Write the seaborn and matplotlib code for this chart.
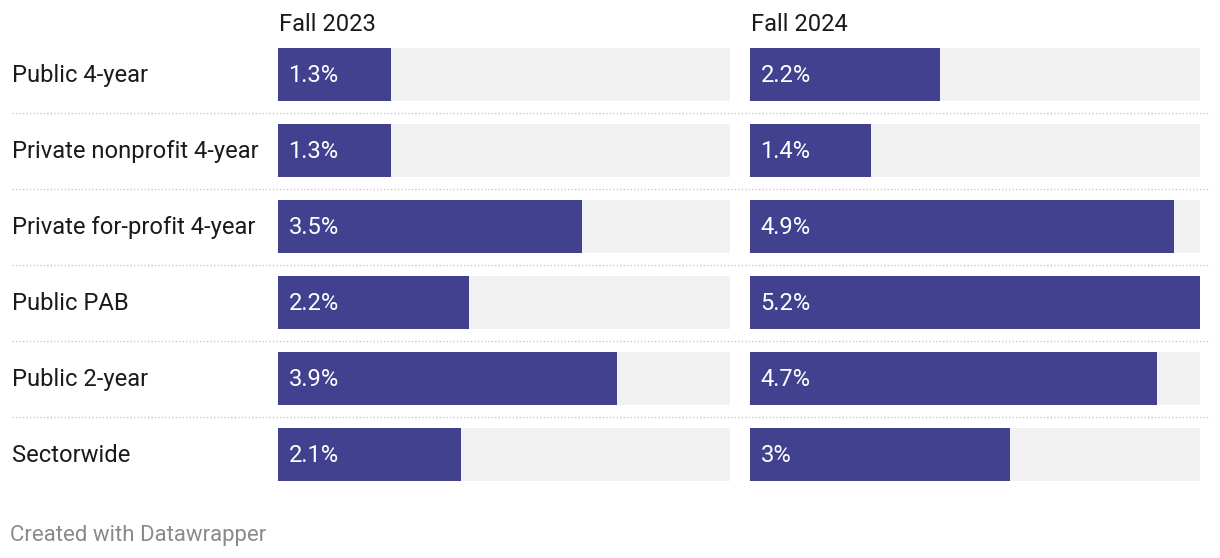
import matplotlib
matplotlib.use("Agg")
import matplotlib.pyplot as plt
import seaborn as sns
import pandas as pd
from matplotlib.lines import Line2D

categories = ["Public 4-year", "Private nonprofit 4-year", "Private for-profit 4-year",
              "Public PAB", "Public 2-year", "Sectorwide"]
fall_2023 = [1.3, 1.3, 3.5, 2.2, 3.9, 2.1]
fall_2024 = [2.2, 1.4, 4.9, 5.2, 4.7, 3.0]
labels_2023 = ["1.3%", "1.3%", "3.5%", "2.2%", "3.9%", "2.1%"]
labels_2024 = ["2.2%", "1.4%", "4.9%", "5.2%", "4.7%", "3%"]
columns = ["Fall 2023", "Fall 2024"]
scale_max = 5.2

sns.set_theme(style="white")
plt.rcParams['font.family'] = ['Roboto', 'DejaVu Sans']

W, H = 1220, 558
fig = plt.figure(figsize=(W / 100, H / 100), dpi=100)
fig.patch.set_facecolor("white")

BAR = "#414190"
BG = "#f1f1f1"
FS = 17.1

top_px, bot_px = 36.5, 492.5
col_px = [(278, 730), (750, 1200)]

for (x0, x1), title, vals, labs in zip(col_px, columns, [fall_2023, fall_2024], [labels_2023, labels_2024]):
    ax = fig.add_axes([x0 / W, 1 - bot_px / H, (x1 - x0) / W, (bot_px - top_px) / H])
    df = pd.DataFrame({"cat": categories, "val": vals, "bg": [scale_max] * len(categories)})
    sns.barplot(data=df, y="cat", x="bg", color=BG, width=0.7, ax=ax, saturation=1,
                orient="h", linewidth=0)
    sns.barplot(data=df, y="cat", x="val", color=BAR, width=0.7, ax=ax, saturation=1,
                orient="h", linewidth=0)
    ax.set_xlim(0, scale_max)
    ax.set_ylim(len(categories) - 0.5, -0.5)
    ax.axis("off")
    for i, lab in enumerate(labs):
        ax.annotate(lab, xy=(0, i), xytext=(10.5, -1.5), textcoords="offset pixels",
                    ha="left", va="center", color="white", fontsize=FS)
    fig.text((x0 + 1) / W, 1 - 24.5 / H, title, ha="left", va="center", fontsize=FS, color="#1a1a1a")

for i, c in enumerate(categories):
    y = 75.5 + 76 * i
    fig.text(12 / W, 1 - y / H, c, ha="left", va="center", fontsize=FS, color="#1a1a1a")

for i in range(len(categories) - 1):
    y = 1 - (112.5 + 76 * i) / H
    fig.add_artist(Line2D([12 / W, 1208 / W], [y, y], transform=fig.transFigure,
                          color="#c8c8c8", linestyle=(0, (1, 1.5)), linewidth=1.0))

fig.text(10 / W, 1 - 535 / H, "Created with Datawrapper", ha="left", va="center",
         fontsize=16, color="#8a8a8a")

fig.savefig("out.png", dpi=100, facecolor="white")
